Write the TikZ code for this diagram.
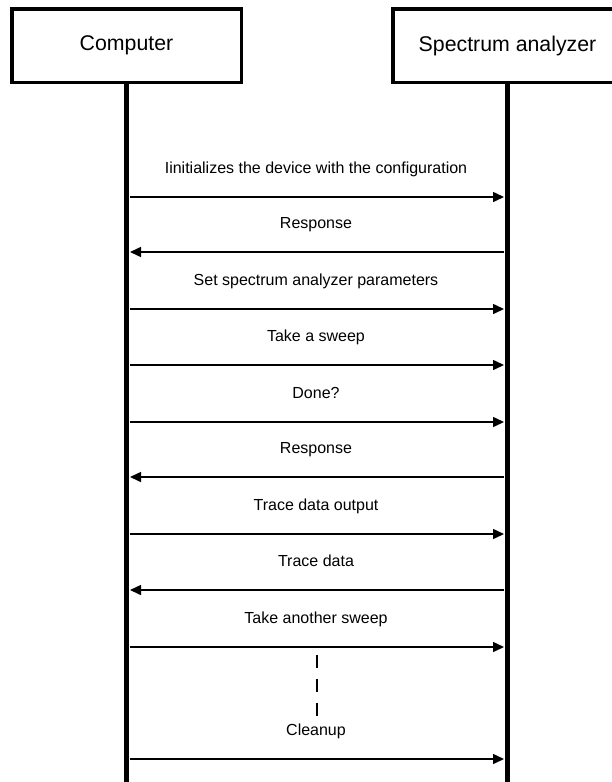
\documentclass[tikz,border=0pt]{standalone}
\usepackage{fontspec}
\setmainfont{Liberation Sans}
\usetikzlibrary{arrows.meta,positioning}

\tikzset{
  party/.style={draw, line width=3.5pt, minimum width=229.5pt, minimum height=73.5pt,
    font=\fontsize{21.3}{25}\selectfont},
  lifeline/.style={line width=5pt},
  msg/.style={line width=1.5pt, -{Triangle[length=11pt,width=10pt]}},
  lbl/.style={anchor=base, font=\fontsize{16}{19}\selectfont}
}

\begin{document}
\begin{tikzpicture}[x=1pt,y=-1pt]
\useasboundingbox (0,0) rectangle (612,782);
\node[party] (comp) at (126.5,45.5) {Computer};
\node[party] (spec) at (507.5,45.5) {Spectrum analyzer};
\coordinate (compEnd) at (126.5,782);
\coordinate (specEnd) at (507.5,782);
\draw[lifeline] (comp.south) -- (compEnd);
\draw[lifeline] (spec.south) -- (specEnd);
% ends of the messages on both lifelines
\foreach \n/\y in {1/197,2/252,3/309,4/365,5/422,6/477,7/534,8/590,9/647,10/759}{
  \coordinate (c\n) at (130,\y);
  \coordinate (s\n) at (504,\y);
}
\node[lbl] (t1) at (316,173) {Iinitializes the device with the configuration};
\node[lbl] (t2) at (316,228) {Response};
\node[lbl] (t3) at (316,285) {Set spectrum analyzer parameters};
\node[lbl] (t4) at (316,341) {Take a sweep};
\node[lbl] (t5) at (316,398) {Done?};
\node[lbl] (t6) at (316,453) {Response};
\node[lbl] (t7) at (316,510) {Trace data output};
\node[lbl] (t8) at (316,566) {Trace data};
\node[lbl] (t9) at (316,623) {Take another sweep};
\node[lbl] (t10) at (316,735) {Cleanup};
\draw[msg] (c1) -- (s1);
\draw[msg] (s2) -- (c2);
\draw[msg] (c3) -- (s3);
\draw[msg] (c4) -- (s4);
\draw[msg] (c5) -- (s5);
\draw[msg] (s6) -- (c6);
\draw[msg] (c7) -- (s7);
\draw[msg] (s8) -- (c8);
\draw[msg] (c9) -- (s9);
\draw[msg] (c10) -- (s10);
% gap in the sequence
\coordinate (gapTop) at (317,655);
\coordinate (gapEnd) at (317,716);
\draw[line width=1.5pt, dash pattern=on 13pt off 11pt] (gapTop) -- (gapEnd);
\end{tikzpicture}
\end{document}
